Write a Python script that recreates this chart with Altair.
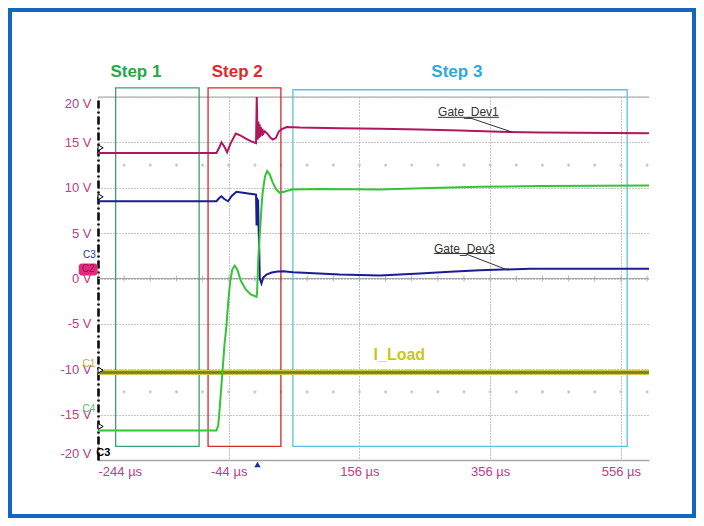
import altair as alt
import pandas as pd

# ---------------- data ----------------
T_DOMAIN = [-244, 599]          # µs
V_DOMAIN = [-20, 20]            # V
x_ticks = [-244, -44, 156, 356, 556]
y_ticks = [-20, -15, -10, -5, 0, 5, 10, 15, 20]

# Gate_Dev1 (magenta)
dev1_t = [-244, -62.8, -58.5, -55.1, -50.8, -46.5, -40.9, -33.2, -25.6, -17.9, -10.3, -2.2,
          -1.1, -0.3, 0.4, 1.4, 2.3, 3.2, 4.1, 5.0, 6.3, 7.5, 8.9, 11.2, 15.8, 19.6, 23.4,
          28.0, 32.6, 37.2, 44.8, 64.7, 125.9, 187.2, 248.4, 309.6, 370.8, 432.0, 599]
dev1_v = [13.84, 13.84, 14.43, 15.01, 14.54, 13.91, 14.92, 15.97, 15.75, 15.42, 15.14, 14.92,
          20.0, 16.96, 15.3, 17.3, 15.5, 17.0, 15.6, 16.7, 15.75, 16.5, 15.97, 16.22, 15.91, 15.53, 15.31,
          15.47, 16.19, 16.46, 16.69, 16.63, 16.57, 16.49, 16.43, 16.30, 16.16, 16.08, 16.00]

# Gate_Dev2 (green)
dev2_t = [-244, -62.8, -60.0, -57.7, -53.6, -50.5, -47.5, -44.7, -41.7, -38.6, -34.8, -30.9,
          -25.6, -17.9, -10.3, -1.5, -0.6, 1.2, 3.5, 5.0, 6.9, 8.5, 11.6, 14.7, 18.8, 23.4,
          28.8, 34.1, 41.8, 52.5, 95.3, 187.2, 263.7, 340.3, 432.0, 599]
dev2_v = [-16.75, -16.75, -16.19, -14.2, -10.32, -7.27, -5.25, -2.53, -0.33, 0.99, 1.43, 0.99,
          -0.22, -1.21, -1.76, -2.02, -1.54, 2.09, 4.85, 6.5, 8.7, 9.8, 11.27, 11.84, 11.45, 10.57,
          9.8, 9.44, 9.58, 9.8, 9.86, 9.80, 9.97, 10.1, 10.19, 10.24]

# Gate_Dev3 (dark blue)
dev3_t = [-244, -62.8, -58.5, -55.1, -50.8, -45.0, -39.4, -32.2, -19.5, -8.8, -2.2,
          -1.4, -0.6, 0.2, 0.9, 1.7, 2.7, 3.5, 6.1, 8.9, 13.8, 21.9, 31.1, 39.2, 54.5,
          125.9, 187.2, 248.4, 294.3, 340.3, 416.8, 599]
dev3_v = [8.51, 8.51, 8.87, 9.06, 8.76, 8.51, 9.09, 9.55, 9.42, 9.31, 9.25,
          5.84, 8.92, 6.06, 8.7, 5.62, 3.19, 0.0, -0.55, 0.11, 0.44, 0.66, 0.77, 0.80, 0.69,
          0.44, 0.33, 0.55, 0.74, 0.91, 1.07, 1.07]

# I_Load (olive)
iload_t = [-244, 599]
iload_v = [-10.35, -10.35]

# step boxes
step_names = ["Step 1", "Step 2", "Step 3"]
step_t0 = [-217.0, -75.6, 54.2]
step_t1 = [-89.3, 35.8, 565.6]
step_v0 = [-18.5, -18.5, -18.5]
step_v1 = [21.0, 21.0, 20.8]
step_label_t = [-186.0, -31.0, 305.0]
step_label_v = [22.7, 22.7, 22.7]

# trace annotations
ann_names = ["Gate_Dev1", "Gate_Dev3"]
ann_t = [322.7, 316.5]
ann_v = [18.36, 3.27]
ann_under_t0 = [276.0, 270.2]
ann_under_t1 = [369.4, 363.5]
ann_under_v = [17.76, 2.75]
ann_lead_t1 = [388.8, 383.6]
ann_lead_v1 = [16.15, 0.91]
ann_lead_t0 = [322.4, 317.3]

iload_label = ["I_Load"]
iload_label_t = [217.0]
iload_label_v = [-8.45]

# scope screen furniture
minor_t = [-244 + 40 * k for k in range(1, 22)]
cross_rows_v = [12.5, -12.5]
solid_lines_v = [0, 20]
marker_v = [14.4, 9.0, -10.1, -16.3]
trigger_t = [0]

ch_names = ["C3", "C1", "C4"]
ch_t = [-257.0, -258.0, -258.0]
ch_v = [2.6, -9.4, -14.4]

# ---------------- styles ----------------
FONT = "Liberation Sans"
LABEL = "#b8408a"
C_DEV1 = "#b0175e"
C_DEV2 = "#35c435"
C_DEV3 = "#1c1c96"
C_LOAD = "#7a7a14"
BOX_COLORS = ["#3c9f70", "#d42a2a", "#5cc0e2"]
TXT_COLORS = ["#1faa45", "#e8262a", "#29abe2"]

xs = alt.Scale(domain=T_DOMAIN, nice=False, zero=False)
ys = alt.Scale(domain=V_DOMAIN, nice=False, zero=False)

x_axis = alt.Axis(values=x_ticks, labelExpr="datum.value + ' µs'", grid=True, gridDash=[1, 2],
                  gridColor="#8c8c8c", gridWidth=1, ticks=False, domainColor="#a6a6a6",
                  domainWidth=1.5, labelColor=LABEL, labelFont=FONT, labelFontSize=13,
                  labelPadding=5, labelFlush=True, title=None)
y_axis = alt.Axis(values=y_ticks, labelExpr="datum.value + ' V'", grid=True, gridDash=[1, 2],
                  gridColor="#8c8c8c", gridWidth=1, ticks=False, domainColor="#000000",
                  domainWidth=2.5, domainDash=[8, 3, 2, 3], labelColor=LABEL, labelFont=FONT,
                  labelFontSize=13, labelPadding=7, labelFlush=True, title=None)


def X(f="t"):
    return alt.X(f + ":Q", scale=xs, axis=x_axis)


def Y(f="v"):
    return alt.Y(f + ":Q", scale=ys, axis=y_axis)


def trace(t, v):
    return pd.DataFrame({"t": t, "v": v, "i": list(range(len(t)))})


# solid scope lines (0 V centre line and top edge)
solid = alt.Chart(pd.DataFrame({"v": solid_lines_v})).mark_rule(
    color="#a6a6a6", strokeWidth=1.2).encode(y=Y())

minor = alt.Chart(pd.DataFrame({"t": minor_t, "v": [0] * len(minor_t)})).mark_tick(
    orient="vertical", size=6, thickness=1, color="#9a9a9a").encode(x=X(), y=Y())

cross_df = pd.DataFrame({"t": minor_t * 2,
                         "v": [cross_rows_v[0]] * len(minor_t) + [cross_rows_v[1]] * len(minor_t)})
crosses = alt.Chart(cross_df).mark_point(shape="cross", size=10, filled=True,
                                         color="#c4c4c4", opacity=1).encode(x=X(), y=Y())

steps_df = pd.DataFrame({"step": step_names, "t0": step_t0, "t1": step_t1,
                         "v0": step_v0, "v1": step_v1,
                         "lt": step_label_t, "lv": step_label_v})
boxes = alt.Chart(steps_df).mark_rect(filled=False, strokeWidth=1.3).encode(
    x=X("t0"), x2="t1:Q", y=Y("v0"), y2="v1:Q",
    stroke=alt.Stroke("step:N", scale=alt.Scale(domain=step_names, range=BOX_COLORS), legend=None))
step_txt = alt.Chart(steps_df).mark_text(font=FONT, fontSize=17, fontWeight="bold").encode(
    x=X("lt"), y=Y("lv"), text="step:N",
    color=alt.Color("step:N", scale=alt.Scale(domain=step_names, range=TXT_COLORS), legend=None))

load_df = trace(iload_t, iload_v)
load_halo = alt.Chart(load_df).mark_line(color="#c8c84a", strokeWidth=5).encode(x=X(), y=Y())
load_line = alt.Chart(load_df).mark_line(color=C_LOAD, strokeWidth=2.5).encode(x=X(), y=Y())

l3 = alt.Chart(trace(dev3_t, dev3_v)).mark_line(color=C_DEV3, strokeWidth=2).encode(
    x=X(), y=Y(), order="i:Q")
l1 = alt.Chart(trace(dev1_t, dev1_v)).mark_line(color=C_DEV1, strokeWidth=2).encode(
    x=X(), y=Y(), order="i:Q")
l2 = alt.Chart(trace(dev2_t, dev2_v)).mark_line(color=C_DEV2, strokeWidth=2).encode(
    x=X(), y=Y(), order="i:Q")

ann_df = pd.DataFrame({"name": ann_names, "t": ann_t, "v": ann_v,
                       "u0": ann_under_t0, "u1": ann_under_t1, "uv": ann_under_v,
                       "l0": ann_lead_t0, "l1": ann_lead_t1, "lv1": ann_lead_v1})
ann_text = alt.Chart(ann_df).mark_text(font=FONT, fontSize=12, color="#333333").encode(
    x=X(), y=Y(), text="name:N")
ann_under = alt.Chart(ann_df).mark_rule(color="#333333", strokeWidth=1).encode(
    x=X("u0"), x2="u1:Q", y=Y("uv"))
ann_lead = alt.Chart(ann_df).mark_rule(color="#333333", strokeWidth=1).encode(
    x=X("l0"), x2="l1:Q", y=Y("uv"), y2="lv1:Q")

iload_txt = alt.Chart(pd.DataFrame({"name": iload_label, "t": iload_label_t, "v": iload_label_v})).mark_text(
    font=FONT, fontSize=16, fontWeight="bold", color="#c9c51f").encode(x=X(), y=Y(), text="name:N")

markers = alt.Chart(pd.DataFrame({"t": [-240] * len(marker_v), "v": marker_v})).mark_point(
    shape="triangle-right", size=35, filled=True, fill="white", stroke="black",
    strokeWidth=1, opacity=1).encode(x=X(), y=Y())

trig = alt.Chart(pd.DataFrame({"t": trigger_t, "v": [-20.5]})).mark_point(
    shape="triangle-up", size=40, filled=True, color="#1a2aa8", opacity=1).encode(x=X(), y=Y())

badge = alt.Chart(pd.DataFrame({"t0": [-273.5], "t1": [-244.5], "v0": [0.33], "v1": [1.65]})).mark_rect(
    color="#e3287f", cornerRadius=3).encode(x=X("t0"), x2="t1:Q", y=Y("v0"), y2="v1:Q")
badge_txt = alt.Chart(pd.DataFrame({"t": [-259.0], "v": [1.0], "n": ["C2"]})).mark_text(
    font=FONT, fontSize=10, color="#9a0e4c").encode(x=X(), y=Y(), text="n:N")

ch_df = pd.DataFrame({"n": ch_names, "t": ch_t, "v": ch_v})
ch_txt = alt.Chart(ch_df).mark_text(font=FONT, fontSize=10).encode(
    x=X(), y=Y(), text="n:N",
    color=alt.Color("n:N", scale=alt.Scale(domain=ch_names, range=["#2432a0", "#c0a850", "#55c455"]),
                    legend=None))
c3_black = alt.Chart(pd.DataFrame({"t": [-236.0], "v": [-19.2], "n": ["C3"]})).mark_text(
    font=FONT, fontSize=11, fontWeight="bold", color="black").encode(x=X(), y=Y(), text="n:N")

frame = alt.Chart(pd.DataFrame({"k": [0]})).mark_rect(
    filled=False, stroke="#1565c0", strokeWidth=4).encode(
    x=alt.value(-88), x2=alt.value(596), y=alt.value(-87), y2=alt.value(419))

chart = alt.layer(
    solid, minor, crosses, boxes, load_halo, load_line, l3, l1, l2,
    ann_under, ann_lead, ann_text, iload_txt, step_txt, markers, trig,
    badge, badge_txt, ch_txt, c3_black, frame
).resolve_scale(color="independent").properties(
    width=551, height=363,
    padding={"left": 90, "top": 89, "right": 47, "bottom": 58},
    autosize=alt.AutoSizeParams(type="none"),
    background="white",
).configure_view(strokeWidth=0)

chart.save("out.html", embed_options={"renderer": "svg", "actions": False})
